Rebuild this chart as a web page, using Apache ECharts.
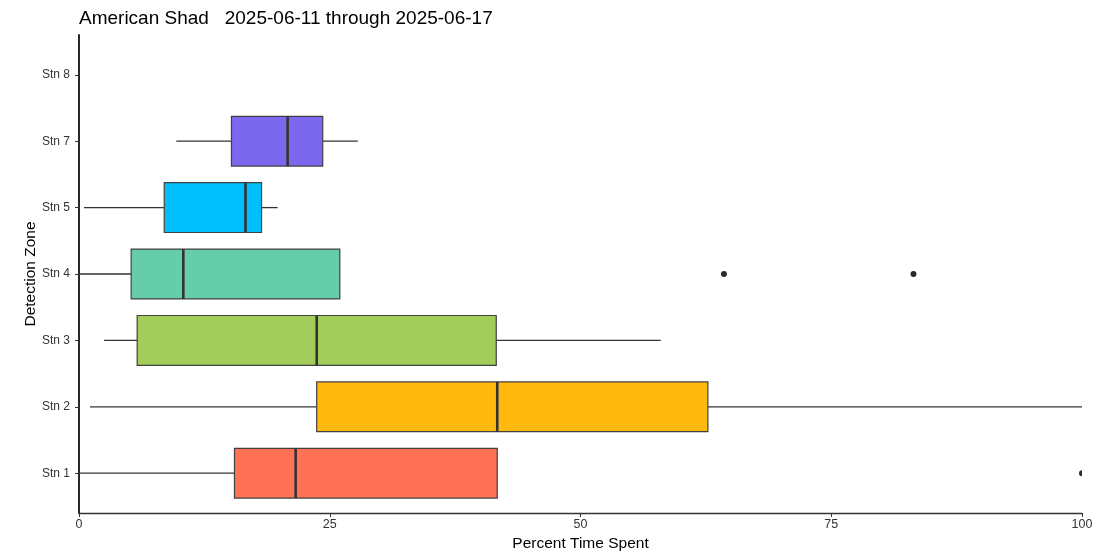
<!DOCTYPE html>
<html><head><meta charset="utf-8">
<script src="https://cdn.jsdelivr.net/npm/echarts@6/dist/echarts.min.js"></script>
<style>html,body{margin:0;padding:0;background:#fff}#c{width:1105px;height:553px}</style>
</head><body><div id="c"></div>
<script>
const categories = ['Stn 1','Stn 2','Stn 3','Stn 4','Stn 5','Stn 7','Stn 8'];
// [low whisker, Q1, median, Q3, high whisker] ; null for no data
const boxStats = [
  [0, 15.5, 21.6, 41.7, 41.7],
  [1.1, 23.7, 41.7, 62.7, 100],
  [2.5, 5.8, 23.7, 41.6, 58.0],
  [0, 5.2, 10.4, 26.0, 26.0],
  [0.5, 8.5, 16.6, 18.2, 19.8],
  [9.7, 15.2, 20.8, 24.3, 27.8],
  null
];
const fills = ['#FF7256','#FFB90F','#A2CD5A','#66CDAA','#00BFFF','#7B68EE','#999999'];
const outliers = [[100,'Stn 1'],[64.3,'Stn 4'],[83.2,'Stn 4']];
const xTicks = [0,25,50,75,100];

const boxData = [];
boxStats.forEach((s,i)=>{ if(s) boxData.push([i, ...s]); });
const outlierData = outliers.map(o=>[o[0], categories.indexOf(o[1])]);

const FONT = 'Liberation Sans, Arial, sans-serif';
const chart = echarts.init(document.getElementById('c'), null, {renderer:'canvas'});
chart.setOption({
  backgroundColor:'#fff',
  animation:false,
  title:{text:'American Shad   2025-06-11 through 2025-06-17', left:74, top:4,
    textStyle:{fontFamily:FONT,fontSize:19,fontWeight:'normal',color:'#000'}},
  grid:[
    {left:79,right:23,top:41.6,bottom:46.6,outerBoundsMode:'none',containLabel:false},
    {left:79,right:23,top:35,bottom:40,outerBoundsMode:'none',containLabel:false}
  ],
  xAxis:[
    {gridIndex:0,type:'value',min:0,max:100,show:false},
    {gridIndex:1,type:'value',min:0,max:100,interval:25,
     name:'Percent Time Spent',nameLocation:'middle',nameGap:21,
     nameTextStyle:{fontFamily:FONT,fontSize:15.5,color:'#000'},
     axisLine:{show:true,lineStyle:{color:'#333',width:1.3}},
     axisTick:{show:true,length:4,lineStyle:{color:'#333'}},
     axisLabel:{fontFamily:FONT,fontSize:12.5,color:'#333',margin:5,
       customValues:xTicks},
     splitLine:{show:false}}
  ],
  yAxis:[
    {gridIndex:0,type:'category',data:categories,boundaryGap:true,
     axisLine:{show:false},
     axisTick:{show:true,alignWithLabel:true,length:4,lineStyle:{color:'#333'}},
     axisLabel:{fontFamily:FONT,fontSize:12,color:'#333',margin:9},
     splitLine:{show:false}},
    {gridIndex:1,type:'value',min:0,max:1,
     name:'Detection Zone',nameLocation:'middle',nameGap:40,nameRotate:90,
     nameTextStyle:{fontFamily:FONT,fontSize:15.5,color:'#000'},
     axisLine:{show:true,lineStyle:{color:'#111',width:1.8}},
     axisTick:{show:false},axisLabel:{show:false},splitLine:{show:false}}
  ],
  series:[
    {type:'custom',xAxisIndex:0,yAxisIndex:0,data:boxData,clip:false,
     encode:{x:[1,2,3,4,5],y:0},
     renderItem:function(params,api){
       const ci = api.value(0);
       const lo = api.coord([api.value(1),ci]);
       const q1 = api.coord([api.value(2),ci]);
       const md = api.coord([api.value(3),ci]);
       const q3 = api.coord([api.value(4),ci]);
       const hi = api.coord([api.value(5),ci]);
       const band = api.size([0,1])[1];
       const h = band*0.75;
       const y = lo[1];
       const line = {stroke:'#333',lineWidth:1.3};
       return {type:'group',children:[
         {type:'line',shape:{x1:lo[0],y1:y,x2:q1[0],y2:y},style:line},
         {type:'line',shape:{x1:q3[0],y1:y,x2:hi[0],y2:y},style:line},
         {type:'rect',shape:{x:q1[0],y:y-h/2,width:q3[0]-q1[0],height:h},
          style:{fill:fills[ci],stroke:'#404040',lineWidth:1.2}},
         {type:'line',shape:{x1:md[0],y1:y-h/2,x2:md[0],y2:y+h/2},
          style:{stroke:'#333',lineWidth:2.6}}
       ]};
     }},
    {type:'custom',xAxisIndex:0,yAxisIndex:0,data:outlierData,clip:true,
     encode:{x:0,y:1},
     renderItem:function(params,api){
       const p = api.coord([api.value(0),api.value(1)]);
       return {type:'circle',shape:{cx:p[0],cy:p[1],r:3},style:{fill:'#2b2b2b'}};
     }}
  ]
});
</script></body></html>
